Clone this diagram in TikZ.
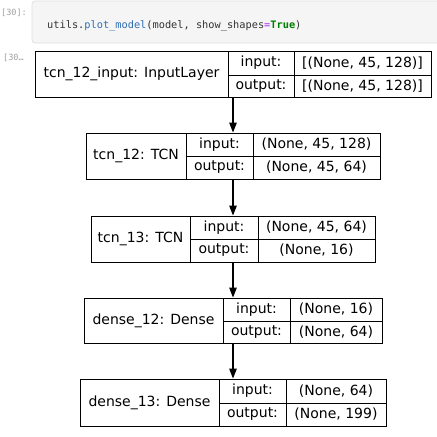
\documentclass[tikz,border=0pt]{standalone}
\usepackage{fontspec}
\setmainfont{DejaVu Sans}
\setmonofont{DejaVu Sans Mono}
\usetikzlibrary{arrows.meta}
\definecolor{cellbg}{HTML}{F5F5F5}
\definecolor{cellbd}{HTML}{E0E0E0}
\definecolor{codetxt}{HTML}{333333}
\definecolor{codeblue}{HTML}{2F6DB5}
\definecolor{codepurple}{HTML}{AA22FF}
\definecolor{codegreen}{HTML}{008000}
\definecolor{promptgray}{HTML}{9E9E9E}
\newcommand\tcell[6]{%
  \pgfmathsetmacro\cw{#4-#2}\pgfmathsetmacro\ch{#5-#3}%
  \node[cellbox, minimum width=\cw pt, minimum height=\ch pt] (#1) at ({(#2+#4)/2},{(#3+#5)/2}) {#6};}
\newcommand\ktable[9]{% id, x0,x1,x2,x3,y0,ym,y1, name
  \tcell{#1n}{#2}{#6}{#3}{#8}{#9}}
\begin{document}
\begin{tikzpicture}[x=1pt,y=-1pt,
  cellbox/.style={draw=black, line width=0.9pt, inner sep=0pt, font=\fontsize{14}{16}\selectfont},
  flow/.style={line width=1.2pt, -{Triangle[length=10pt,width=7.5pt]}},
  prompt/.style={font=\ttfamily\fontsize{8.5}{10}\selectfont, text=promptgray, inner sep=0pt}]
\useasboundingbox (0,0) rectangle (437,437);
% code cell
\draw[rounded corners=3pt, fill=cellbg, draw=cellbd, line width=0.8pt] (32,1) rectangle (450,43);
\node[prompt, anchor=west] (p1) at (1,13) {[30]:};
\node[prompt, anchor=west] (p2) at (3,58) {[30…};
\node[anchor=base west, inner sep=0pt, font=\ttfamily\fontsize{10.3}{12}\selectfont, text=codetxt] (code) at (47,28)
  {utils.\textcolor{codeblue}{plot\_model}(model, show\_shapes\textcolor{codepurple}{=}\textcolor{codegreen}{\bfseries True})};
% table 1
\tcell{t1n}{35}{51}{228}{97}{tcn\_12\_input: InputLayer}
\tcell{t1i}{228}{51}{294}{75}{input:}
\tcell{t1o}{228}{75}{294}{97}{output:}
\tcell{t1iv}{294}{51}{431}{75}{[(None, 45, 128)]}
\tcell{t1ov}{294}{75}{431}{97}{[(None, 45, 128)]}
% table 2
\tcell{t2n}{86}{133}{186}{179}{tcn\_12: TCN}
\tcell{t2i}{186}{133}{253}{156}{input:}
\tcell{t2o}{186}{156}{253}{179}{output:}
\tcell{t2iv}{253}{133}{380}{156}{(None, 45, 128)}
\tcell{t2ov}{253}{156}{380}{179}{(None, 45, 64)}
% table 3
\tcell{t3n}{91}{216}{190}{262}{tcn\_13: TCN}
\tcell{t3i}{190}{216}{258}{239}{input:}
\tcell{t3o}{190}{239}{258}{262}{output:}
\tcell{t3iv}{258}{216}{375}{239}{(None, 45, 64)}
\tcell{t3ov}{258}{239}{375}{262}{(None, 16)}
% table 4
\tcell{t4n}{84}{298}{223}{343}{dense\_12: Dense}
\tcell{t4i}{223}{298}{290}{321}{input:}
\tcell{t4o}{223}{321}{290}{343}{output:}
\tcell{t4iv}{290}{298}{382}{321}{(None, 16)}
\tcell{t4ov}{290}{321}{382}{343}{(None, 64)}
% table 5
\tcell{t5n}{80}{379}{219}{426}{dense\_13: Dense}
\tcell{t5i}{219}{379}{286}{403}{input:}
\tcell{t5o}{219}{403}{286}{426}{output:}
\tcell{t5iv}{286}{379}{386}{403}{(None, 64)}
\tcell{t5ov}{286}{403}{386}{426}{(None, 199)}
% connectors
\coordinate (ax) at (233,0);
\draw[flow] (t1o.south -| ax) -- (t2i.north -| ax);
\draw[flow] (t2o.south -| ax) -- (t3i.north -| ax);
\draw[flow] (t3o.south -| ax) -- (t4i.north -| ax);
\draw[flow] (t4o.south -| ax) -- (t5i.north -| ax);
\end{tikzpicture}
\end{document}
